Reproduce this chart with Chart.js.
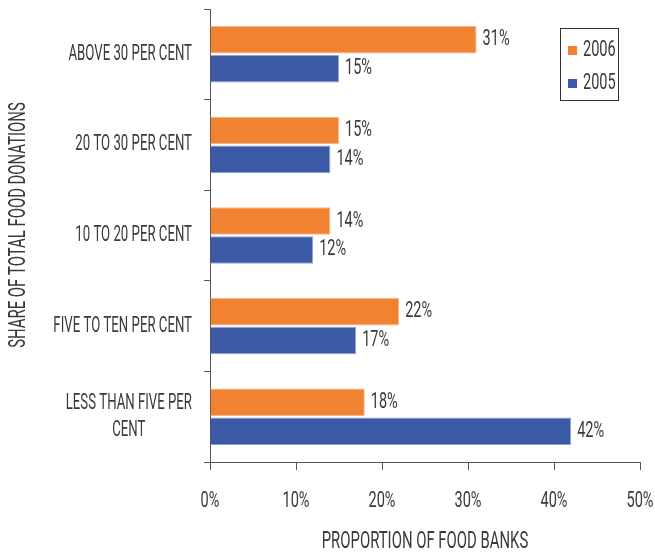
<!DOCTYPE html>
<html>
<head>
<meta charset="utf-8">
<script src="https://cdn.jsdelivr.net/npm/chart.js@4/dist/chart.umd.min.js"></script>
<style>
  html, body { margin: 0; padding: 0; background: #fff; }
  #wrap { width: 655px; height: 554px; position: relative; }
</style>
</head>
<body>
<div id="wrap"><canvas id="foodChart"></canvas></div>
<script>
const categories = [
  'ABOVE 30 PER CENT',
  '20 TO 30 PER CENT',
  '10 TO 20 PER CENT',
  'FIVE TO TEN PER CENT',
  ['LESS THAN FIVE PER', 'CENT']
];
const values2006 = [31, 15, 14, 22, 18];
const values2005 = [15, 14, 12, 17, 42];
const seriesLabels = ['2006', '2005'];
const xTicks = [0, 10, 20, 30, 40, 50];
const xTitle = 'PROPORTION OF FOOD BANKS';
const yTitle = 'SHARE OF TOTAL FOOD DONATIONS';

const FAMILY = 'Roboto, "Liberation Sans", sans-serif';
const TEXT = '#3a3a3a';
// il font originale e' molto condensato
const SQ_WORDS = 0.6;
const SQ_NUMS = 0.66;

function font(size) { return '400 ' + size + 'px ' + FAMILY; }

// testo condensato: fillText con maxWidth ridotto
function narrowText(ctx, text, x, y, sq) {
  const w = ctx.measureText(text).width;
  ctx.fillText(text, x, y, w * sq);
}

// Testi: etichette assi, titoli, valori
const textPlugin = {
  id: 'narrowTexts',
  afterDatasetsDraw(chart) {
    const ctx = chart.ctx;
    const xs = chart.scales.x, ys = chart.scales.y;
    const area = chart.chartArea;
    ctx.save();
    ctx.fillStyle = TEXT;
    ctx.textBaseline = 'middle';

    // valori sulle barre
    ctx.font = font(22);
    ctx.textAlign = 'left';
    chart.data.datasets.forEach((ds, di) => {
      chart.getDatasetMeta(di).data.forEach((bar, i) => {
        narrowText(ctx, ds.data[i] + '%', bar.x + 6, bar.y, SQ_NUMS);
      });
    });

    // etichette categorie
    ctx.font = font(22);
    categories.forEach((label, i) => {
      const lines = Array.isArray(label) ? label : [label];
      const cy = ys.getPixelForTick(i);
      const maxW = Math.max(...lines.map(l => ctx.measureText(l).width * SQ_WORDS));
      const right = area.left - 18;
      ctx.textAlign = 'center';
      lines.forEach((l, k) => {
        const ly = cy + (k - (lines.length - 1) / 2) * 27;
        narrowText(ctx, l, right - maxW / 2, ly, SQ_WORDS);
      });
    });

    // etichette asse x
    ctx.font = font(22);
    ctx.textAlign = 'center';
    xTicks.forEach(v => {
      narrowText(ctx, v + '%', xs.getPixelForValue(v), area.bottom + 39, SQ_NUMS);
    });

    // titoli
    ctx.font = font(24);
    narrowText(ctx, xTitle, (area.left + area.right) / 2, area.bottom + 80, SQ_WORDS + 0.02);
    ctx.translate(19, 225);
    ctx.rotate(-Math.PI / 2);
    narrowText(ctx, yTitle, 0, 0, SQ_WORDS + 0.02);
    ctx.restore();
  }
};

// Legenda nel riquadro
const boxLegend = {
  id: 'boxLegend',
  afterDraw(chart) {
    const ctx = chart.ctx;
    const x = 560, y = 28, w = 58, h = 72;
    ctx.save();
    ctx.strokeStyle = '#333';
    ctx.lineWidth = 1;
    ctx.strokeRect(x + 0.5, y + 0.5, w, h);
    ctx.font = font(22);
    ctx.textBaseline = 'middle';
    ctx.textAlign = 'left';
    chart.data.datasets.forEach((ds, i) => {
      const cy = y + 22 + i * 33;
      ctx.fillStyle = ds.backgroundColor;
      ctx.fillRect(x + 8, cy - 4, 9, 9);
      ctx.fillStyle = TEXT;
      narrowText(ctx, ds.label, x + 23, cy, SQ_NUMS);
    });
    ctx.restore();
  }
};

new Chart(document.getElementById('foodChart'), {
  type: 'bar',
  data: {
    labels: categories,
    datasets: [
      {
        label: seriesLabels[0],
        data: values2006,
        backgroundColor: '#F08232',
        borderColor: '#F7B889',
        borderWidth: 1,
        barPercentage: 0.95,
        categoryPercentage: 0.64
      },
      {
        label: seriesLabels[1],
        data: values2005,
        backgroundColor: '#3B59A5',
        borderColor: '#93A3CF',
        borderWidth: 1,
        barPercentage: 0.95,
        categoryPercentage: 0.64
      }
    ]
  },
  options: {
    indexAxis: 'y',
    responsive: true,
    maintainAspectRatio: false,
    animation: false,
    layout: { padding: { left: 0, right: 15, top: 9, bottom: 0 } },
    plugins: {
      legend: { display: false },
      tooltip: { enabled: false }
    },
    scales: {
      x: {
        min: 0,
        max: 50,
        afterBuildTicks: scale => { scale.ticks = xTicks.map(v => ({ value: v })); },
        afterFit: scale => { scale.height = 92; },
        border: { display: true, color: '#555', width: 1 },
        grid: { drawOnChartArea: false, drawTicks: true, tickLength: 8, color: '#555' },
        ticks: { display: false },
        title: { display: false }
      },
      y: {
        afterFit: scale => { scale.width = 210; },
        border: { display: true, color: '#555', width: 1 },
        grid: { drawOnChartArea: false, drawTicks: true, tickLength: 6, color: '#555', offset: true },
        ticks: { display: false },
        title: { display: false }
      }
    }
  },
  plugins: [textPlugin, boxLegend]
});
</script>
</body>
</html>
